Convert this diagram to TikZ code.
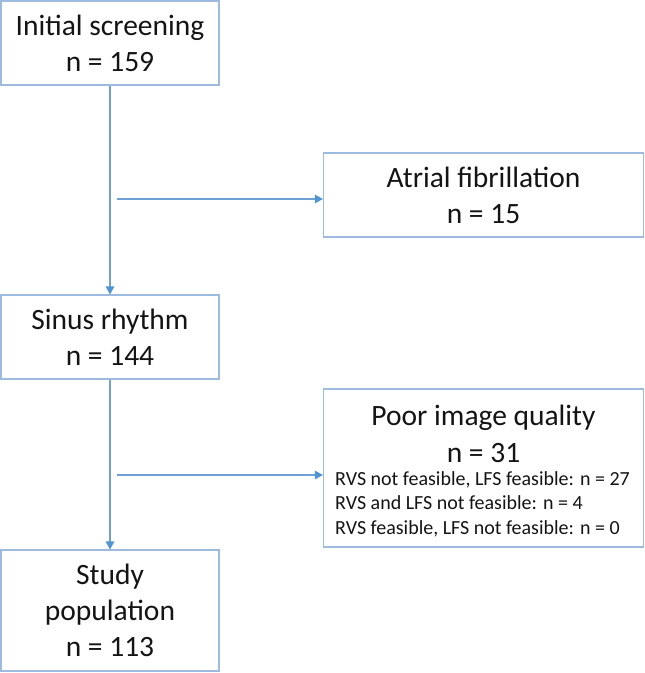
\documentclass[tikz,border=0pt]{standalone}
\usepackage{fontspec}
\setmainfont{Carlito}
\usetikzlibrary{arrows.meta}
\definecolor{boxline}{RGB}{157,187,222}
\definecolor{arrline}{RGB}{110,160,214}
\definecolor{arrtip}{RGB}{80,148,210}
\definecolor{txt}{RGB}{20,20,20}
\tikzset{
  flowbox/.style={draw=boxline, line width=1.1pt, rectangle, inner sep=0pt, text=txt,
    align=center, font=\fontsize{29.5}{36}\selectfont},
  smalltext/.style={inner sep=0pt, text=txt, align=left, font=\fontsize{20}{24.5}\selectfont},
  flowarrow/.style={draw=arrline, line width=1.3pt, -{Triangle[length=8pt,width=8.5pt,color=arrtip]}}
}
\begin{document}
\begin{tikzpicture}[x=1pt,y=-1pt]
\useasboundingbox (0,0) rectangle (645,673);
\node[flowbox, minimum width=218pt, minimum height=84pt] (init) at (110,43) {Initial screening\\n = 159};
\node[flowbox, minimum width=320pt, minimum height=84pt] (af) at (483.5,195) {Atrial fibrillation\\n = 15};
\node[flowbox, minimum width=218pt, minimum height=84pt] (sr) at (110,337) {Sinus rhythm\\n = 144};
\node[flowbox, minimum width=320pt, minimum height=158pt] (pq) at (483.5,468) {};
\node[flowbox, draw=none, fill=none] (pqt) at (483.5,433.5) {Poor image quality\\[1pt]n = 31};
\node[smalltext, anchor=west] (pqd) at (335,504) {RVS not feasible, LFS feasible: n = 27\\RVS and LFS not feasible: n = 4\\RVS feasible, LFS not feasible: n = 0};
\node[flowbox, minimum width=218pt, minimum height=121pt] (sp) at (110,610.5) {Study\\population\\n = 113};
\coordinate (c1) at (117,199);
\coordinate (c2) at (117,475);
\draw[flowarrow] (init.south) -- (sr.north);
\draw[flowarrow] (c1) -- (c1 -| af.west);
\draw[flowarrow] (sr.south) -- (sp.north);
\draw[flowarrow] (c2) -- (c2 -| pq.west);
\end{tikzpicture}
\end{document}
